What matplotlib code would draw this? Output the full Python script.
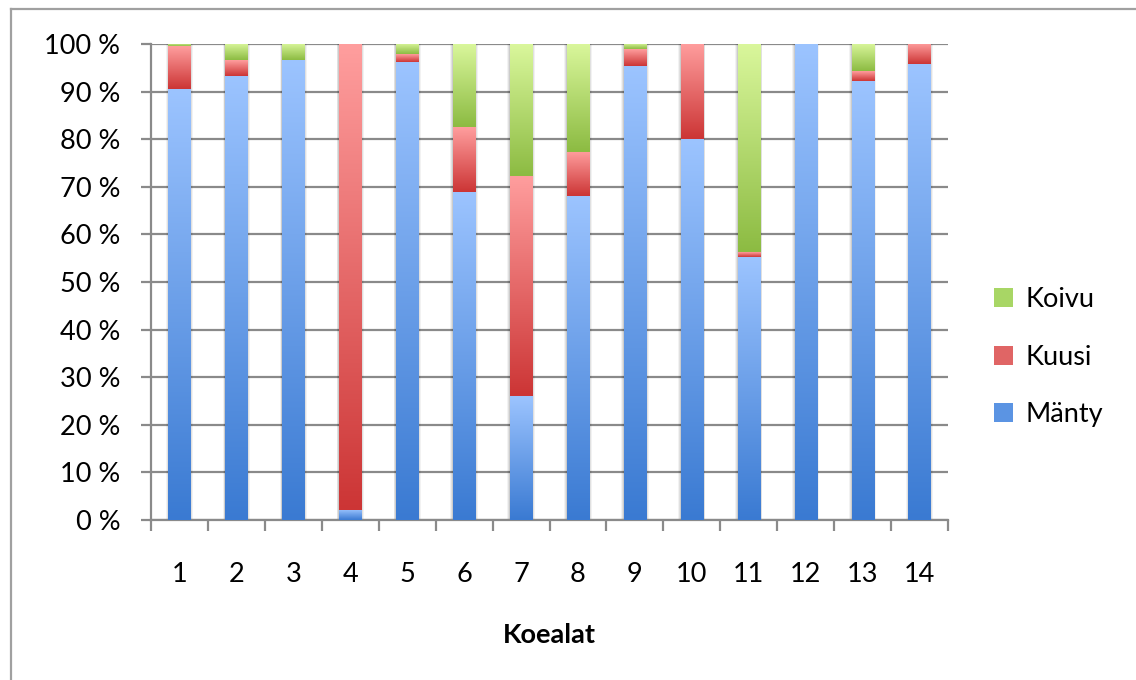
import numpy as np
import matplotlib
matplotlib.use("Agg")
import matplotlib.pyplot as plt
from matplotlib.colors import LinearSegmentedColormap
from matplotlib.patches import Patch
from matplotlib.lines import Line2D

plt.rcParams['font.family'] = ['Lato', 'DejaVu Sans']

# Tree species share per sample plot (%)
plots = ["1", "2", "3", "4", "5", "6", "7", "8", "9", "10", "11", "12", "13", "14"]
manty = [90.5, 93.3, 96.6, 2.2, 96.2, 69.0, 26.0, 68.0, 95.4, 80.0, 55.2, 100.0, 92.2, 95.7]
kuusi = [9.0, 3.3, 0.0, 97.8, 1.6, 13.5, 46.3, 9.3, 3.5, 20.0, 1.0, 0.0, 2.1, 4.3]
koivu = [0.5, 3.4, 3.4, 0.0, 2.2, 17.5, 27.7, 22.7, 1.1, 0.0, 43.8, 0.0, 5.7, 0.0]

series = [
    ("Mänty", manty, ("#9cc4ff", "#3a7ad2")),
    ("Kuusi", kuusi, ("#ff9e9e", "#cc3535")),
    ("Koivu", koivu, ("#daf79c", "#8cbb42")),
]
legend_colors = {"Mänty": "#5b94e3", "Kuusi": "#e06565", "Koivu": "#a8d665"}

FS = 19.5

fig = plt.figure(figsize=(11.36, 6.8), dpi=100)
ax = fig.add_axes([151 / 1136, 1 - 520 / 680, (948 - 151) / 1136, (520 - 44) / 680])

x = np.arange(len(plots))
width = 0.39
bottom = np.zeros(len(plots))
grad = np.linspace(1, 0, 256).reshape(-1, 1)

for name, vals, (light, dark) in series:
    vals = np.asarray(vals)
    cmap = LinearSegmentedColormap.from_list(name, [dark, light])
    bars = ax.bar(x, vals, width, bottom=bottom, color=dark, zorder=3,
                  linewidth=0)
    for rect, v in zip(bars, vals):
        if v <= 0:
            continue
        x0, y0 = rect.get_x(), rect.get_y()
        w, h = rect.get_width(), rect.get_height()
        # soft shadow around each segment
        for k, a in ((0.045, 0.05), (0.03, 0.07), (0.015, 0.09)):
            ax.add_patch(plt.Rectangle((x0 - k, y0), w + 2 * k, h,
                                       color="#000000", alpha=a,
                                       linewidth=0, zorder=2.5))
        img = ax.imshow(grad, cmap=cmap, aspect="auto",
                        extent=(x0, x0 + w, y0, y0 + h),
                        zorder=3.5, interpolation="bicubic")
        img.set_clip_path(rect)
    bottom = bottom + vals

ax.set_xlim(-0.5, len(plots) - 0.5)
ax.set_ylim(0, 100)

# y axis: gridlines every 10 %
yt = np.arange(0, 101, 10)
ax.set_yticks(yt)
ax.set_yticklabels([f"{v} %" for v in yt])
ax.yaxis.grid(True, color="#8a8a8a", linewidth=1.6, zorder=1)
ax.tick_params(axis="y", length=7, width=1.6, color="#8a8a8a",
               labelsize=FS, pad=15)

# x axis: tick marks between plots, labels at plot centres
ax.set_xticks(np.arange(-0.5, len(plots), 1.0))
ax.set_xticklabels([])
ax.set_xticks(x, minor=True)
ax.set_xticklabels(plots, minor=True)
ax.tick_params(axis="x", which="major", length=8, width=1.6, color="#8a8a8a")
ax.tick_params(axis="x", which="minor", length=0, labelsize=FS, pad=30)
ax.set_xlabel("Koealat", fontsize=FS, fontweight="bold", labelpad=26)

for s in ("top", "right"):
    ax.spines[s].set_visible(False)
for s in ("left", "bottom"):
    ax.spines[s].set_color("#8a8a8a")
    ax.spines[s].set_linewidth(1.6)
ax.set_axisbelow(True)

order = ["Koivu", "Kuusi", "Mänty"]
handles = [Patch(facecolor=legend_colors[n], edgecolor="none") for n in order]
fig.legend(handles, order, loc="upper left",
           bbox_to_anchor=(970 / 1136, 1 - 263 / 680), frameon=False,
           fontsize=FS, handlelength=0.7, handleheight=0.7,
           handletextpad=0.45, labelspacing=1.2)

# chart area frame
fig.add_artist(Line2D([11 / 1136, 1.0], [1 - 9 / 680] * 2, color="#a0a0a0",
                      linewidth=1.6, transform=fig.transFigure))
fig.add_artist(Line2D([11 / 1136] * 2, [0.0, 1 - 9 / 680], color="#a0a0a0",
                      linewidth=1.6, transform=fig.transFigure))

fig.savefig("out.png", dpi=100)
